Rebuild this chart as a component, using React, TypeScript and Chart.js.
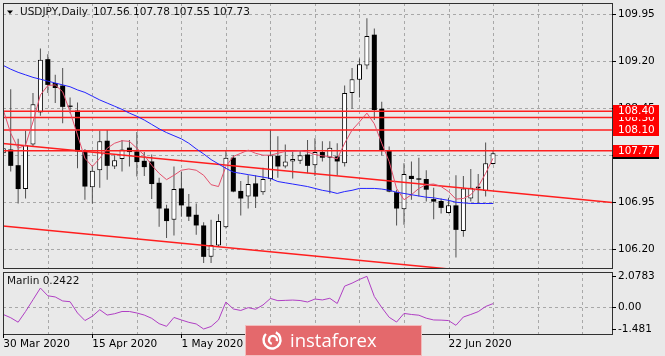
import React, { useEffect, useRef } from 'react';
import { Chart, registerables } from 'chart.js';

Chart.register(...registerables);

// ---------------- data ----------------
const openP = [
  107.73, 107.79, 107.54, 107.16, 107.87, 108.38, 109.23, 108.85, 108.81, 108.49,
  108.41, 107.78, 107.19, 107.46, 107.93, 107.52, 107.64, 107.82, 107.76, 107.61,
  107.60, 107.26, 106.85, 106.67, 107.17, 106.88, 106.75, 106.58, 106.08, 106.26,
  106.55, 107.66, 107.13, 107.04, 107.25, 107.11, 107.32, 107.69, 107.52, 107.60,
  107.61, 107.71, 107.54, 107.75, 107.66, 107.68, 107.57, 108.69, 108.90, 109.13,
  109.62, 108.44, 107.77, 107.11, 106.84, 107.37, 107.33, 107.32, 107.00, 106.97,
  106.78, 106.90, 106.49, 107.01, 107.17, 107.13, 107.56,
];
const highP = [
  108.45, 108.75, 107.96, 108.09, 108.69, 109.40, 109.31, 108.98, 109.09, 108.62,
  108.54, 107.80, 107.53, 108.09, 108.10, 107.70, 107.94, 107.94, 108.07, 107.75,
  107.71, 107.34, 106.91, 107.52, 107.43, 107.08, 106.93, 106.63, 106.67, 106.76,
  107.78, 107.70, 107.29, 107.38, 107.38, 107.50, 108.10, 108.00, 107.87, 107.76,
  107.78, 107.94, 107.97, 107.92, 107.92, 107.89, 108.81, 109.09, 109.24, 109.88,
  109.72, 108.55, 107.84, 107.15, 107.57, 107.60, 107.66, 107.46, 107.18, 107.01,
  107.02, 107.38, 107.37, 107.48, 107.40, 107.90, 107.78,
];
const lowP = [
  107.15, 107.44, 106.93, 107.01, 107.84, 108.33, 108.69, 108.53, 108.21, 108.37,
  107.49, 106.99, 106.93, 107.18, 107.31, 107.48, 107.44, 107.52, 107.36, 107.37,
  107.00, 106.56, 106.38, 106.42, 106.72, 106.65, 106.43, 105.98, 105.98, 106.24,
  106.53, 107.11, 106.74, 106.85, 106.86, 107.07, 107.28, 107.34, 107.49, 107.33,
  107.56, 107.41, 107.37, 107.60, 107.09, 107.38, 107.52, 108.44, 108.62, 109.07,
  108.26, 107.70, 107.11, 106.58, 106.59, 106.99, 107.04, 106.96, 106.68, 106.77,
  106.77, 106.07, 106.40, 106.96, 106.92, 107.04, 107.55,
];
const closeP = [
  107.81, 107.53, 107.16, 107.86, 108.51, 109.22, 108.82, 108.77, 108.47, 108.47,
  107.76, 107.20, 107.45, 107.92, 107.53, 107.62, 107.79, 107.75, 107.59, 107.51,
  107.24, 106.85, 106.65, 107.16, 106.90, 106.72, 106.58, 106.08, 106.27, 106.65,
  107.66, 107.12, 107.01, 107.24, 107.04, 107.32, 107.70, 107.52, 107.60, 107.64,
  107.70, 107.53, 107.75, 107.66, 107.82, 107.60, 108.69, 108.91, 109.15, 109.60,
  108.42, 107.77, 107.12, 106.85, 107.40, 107.32, 107.31, 107.15, 106.96, 106.86,
  106.90, 106.51, 107.17, 107.18, 107.20, 107.57, 107.73,
];
const maBlue = [
  109.13, 109.07, 109.02, 108.98, 108.94, 108.91, 108.88, 108.85, 108.82, 108.79,
  108.74, 108.70, 108.64, 108.58, 108.53, 108.48, 108.43, 108.37, 108.32, 108.26,
  108.19, 108.12, 108.06, 108.01, 107.96, 107.89, 107.80, 107.72, 107.63, 107.56,
  107.49, 107.43, 107.41, 107.39, 107.37, 107.35, 107.33, 107.28, 107.26, 107.24,
  107.22, 107.20, 107.17, 107.14, 107.12, 107.09, 107.12, 107.14, 107.17, 107.17,
  107.17, 107.16, 107.14, 107.11, 107.09, 107.07, 107.05, 107.03, 107.02, 107.00,
  106.98, 106.95, 106.94, 106.93, 106.93, 106.93, 106.93,
];
const maPink = [
  108.42, 108.05, 107.81, 107.86, 108.23, 108.66, 108.81, 108.82, 108.71, 108.39,
  108.02, 107.65, 107.52, 107.65, 107.81, 107.89, 107.93, 107.92, 107.81, 107.70,
  107.54, 107.41, 107.31, 107.38, 107.46, 107.48, 107.46, 107.38, 107.23, 107.20,
  107.52, 107.68, 107.73, 107.78, 107.73, 107.70, 107.70, 107.73, 107.76, 107.76,
  107.77, 107.75, 107.71, 107.69, 107.68, 107.64, 107.89, 108.10, 108.23, 108.37,
  108.20, 107.89, 107.60, 107.17, 106.99, 107.07, 107.17, 107.23, 107.24, 107.20,
  107.12, 107.00, 107.01, 107.07, 107.20, 107.41, 107.65,
];
const marlin = [
  -0.49, -0.71, -1.01, -0.29, 0.50, 1.29, 0.77, 0.69, 0.42, 0.37,
  -0.39, -0.90, -0.61, -0.17, -0.53, -0.44, -0.29, -0.29, -0.39, -0.53,
  -0.75, -1.11, -1.29, -0.69, -0.86, -1.02, -1.13, -1.47, -1.30, -0.86,
  0.35, -0.12, -0.22, -0.03, -0.14, 0.15, 0.59, 0.44, 0.46, 0.48,
  0.45, 0.35, 0.55, 0.49, 0.60, 0.25, 1.42, 1.62, 1.87, 2.08,
  0.72, -0.02, -0.68, -1.00, -0.42, -0.49, -0.54, -0.74, -0.86, -0.87,
  -0.90, -1.22, -0.66, -0.49, -0.30, 0.05, 0.24,
];

const priceTicks = [109.95, 109.2, 108.45, 107.7, 106.95, 106.2];
const levelPrices = [108.3, 108.4, 108.1, 107.77];
const levelTexts = ['108.30', '108.40', '108.10', '107.77'];
const bidPrice = 107.73;
const trendUpperIdx = [-0.04, 82.03];
const trendUpperPrice = [107.886, 106.946];
const trendLowerIdx = [-0.04, 82.03];
const trendLowerPrice = [106.571, 105.636];
const gridBars = [0, 6, 12, 18, 24, 30, 36, 42, 48, 54, 60, 66, 72, 78];
const dateTickIdx = [0, 12, 24, 36, 48, 60];
const dateTickText = ['30 Mar 2020', '15 Apr 2020', '1 May 2020', '19 May 2020', '4 Jun 2020', '22 Jun 2020'];
const marlinTicks = [2.0783, 0, -1.481];
const marlinTickText = ['2.0783', '0.00', '-1.481'];
const marlinName = 'Marlin 0.2422';
const symbolText = 'USDJPY,Daily';
const ohlcText = '107.56 107.78 107.55 107.73';
const logoText = 'instaforex';

// ---------------- style ----------------
const W = 665;
const MAIN_H = 270;
const SUB_TOP = 270;
const SUB_H = 86;
const X_MIN = -0.04, X_MAX = 82.03;
const P_MIN = 105.902, P_MAX = 110.125;
const M_MIN = -1.806, M_MAX = 2.372;
const BG = '#e9e9e9';
const GRID = '#a8a8a8';
const FRAME = '#303030';
const WICK = '#505050';
const RED = '#ff1e1e';
const PINK = '#e4506c';
const BLUE = '#2424ff';
const PURPLE = '#b03fc4';
const FONT = "'DejaVu Sans', sans-serif";
const FS = 10.5;

const half = (v: number) => Math.round(v) + 0.5;

function fillBg(chart: any) {
  const { ctx, width, height } = chart;
  ctx.save();
  ctx.fillStyle = BG;
  ctx.fillRect(0, 0, width, height);
  ctx.restore();
}

function drawGrid(chart: any, hVals: number[]) {
  const { ctx, chartArea: a, scales } = chart;
  ctx.save();
  ctx.strokeStyle = GRID;
  ctx.lineWidth = 1;
  ctx.setLineDash([3, 3]);
  ctx.beginPath();
  gridBars.forEach((b) => {
    const px = half(scales.x.getPixelForValue(b));
    if (px < a.left || px > a.right) return;
    ctx.moveTo(px, a.top);
    ctx.lineTo(px, a.bottom);
  });
  hVals.forEach((v) => {
    const py = half(scales.y.getPixelForValue(v));
    ctx.moveTo(a.left, py);
    ctx.lineTo(a.right, py);
  });
  ctx.stroke();
  ctx.restore();
}

function drawFrameAndTicks(chart: any, yVals: number[]) {
  const { ctx, chartArea: a, scales } = chart;
  ctx.save();
  ctx.strokeStyle = FRAME;
  ctx.lineWidth = 1;
  const l = Math.round(a.left), t = Math.round(a.top), r = Math.round(a.right), b = Math.round(a.bottom);
  ctx.strokeRect(l + 0.5, t + 0.5, r - l, b - t);
  ctx.strokeStyle = '#000';
  ctx.beginPath();
  yVals.forEach((v) => {
    const py = half(scales.y.getPixelForValue(v));
    ctx.moveTo(r, py);
    ctx.lineTo(r + 4, py);
  });
  ctx.stroke();
  ctx.restore();
}

const mainPlugin = {
  id: 'mainDecor',
  beforeDraw: (chart: any) => fillBg(chart),
  beforeDatasetsDraw: (chart: any) => drawGrid(chart, priceTicks),
  afterDraw: (chart: any) => {
    const { ctx, chartArea: a, scales } = chart;
    drawFrameAndTicks(chart, priceTicks);
    ctx.save();
    const r = Math.round(a.right) + 1;
    // bid marker (black) under level boxes
    const by = scales.y.getPixelForValue(bidPrice);
    ctx.fillStyle = '#000';
    ctx.fillRect(r, Math.round(by - 6), 46, 12);
    levelPrices.forEach((p, k) => {
      const py = scales.y.getPixelForValue(p);
      ctx.fillStyle = '#ff0000';
      ctx.fillRect(r, Math.round(py - 6), 46, 12);
      ctx.fillStyle = '#ffffff';
      ctx.font = `${FS}px ${FONT}`;
      ctx.textBaseline = 'middle';
      ctx.textAlign = 'left';
      ctx.fillText(levelTexts[k], r + 5, py + 0.5);
    });
    // header
    ctx.fillStyle = '#000';
    ctx.beginPath();
    ctx.moveTo(7, 10.5);
    ctx.lineTo(13, 10.5);
    ctx.lineTo(10, 14);
    ctx.closePath();
    ctx.fill();
    ctx.fillStyle = '#111';
    ctx.font = `${FS}px ${FONT}`;
    ctx.textBaseline = 'middle';
    ctx.textAlign = 'left';
    ctx.fillText(symbolText, 20, 12.5);
    ctx.fillText(ohlcText, 93, 12.5);
    ctx.restore();
  },
};

const subPlugin = {
  id: 'subDecor',
  beforeDraw: (chart: any) => fillBg(chart),
  beforeDatasetsDraw: (chart: any) => drawGrid(chart, [0]),
  afterDraw: (chart: any) => {
    const { ctx, chartArea: a, scales } = chart;
    drawFrameAndTicks(chart, marlinTicks);
    ctx.save();
    // date tick marks
    ctx.strokeStyle = '#000';
    ctx.beginPath();
    const b = Math.round(a.bottom);
    dateTickIdx.forEach((i) => {
      const px = half(scales.x.getPixelForValue(i));
      ctx.moveTo(px, b);
      ctx.lineTo(px, b + 4);
    });
    ctx.stroke();
    // indicator name
    ctx.fillStyle = '#111';
    ctx.font = `${FS}px ${FONT}`;
    ctx.textBaseline = 'middle';
    ctx.textAlign = 'left';
    ctx.fillText(marlinName, 7, 11);
    // logo
    ctx.fillStyle = '#e4696c';
    ctx.fillRect(245, 55, 177, 31);
    ctx.strokeStyle = 'rgba(255,255,255,0.55)';
    ctx.lineWidth = 1;
    ctx.strokeRect(245.5, 55.5, 176, 30);
    ctx.strokeStyle = '#ffffff';
    ctx.lineWidth = 2.4;
    ctx.beginPath();
    ctx.arc(272, 70, 8.5, -0.35 * Math.PI, 1.25 * Math.PI);
    ctx.stroke();
    ctx.beginPath();
    ctx.arc(273, 70, 4, 0.6 * Math.PI, 2.1 * Math.PI);
    ctx.stroke();
    ctx.fillStyle = '#ffffff';
    ctx.font = "18.5px 'Open Sans', sans-serif";
    ctx.textBaseline = 'alphabetic';
    ctx.fillText(logoText, 290, 76.5);
    ctx.restore();
  },
};

function PriceChart() {
  const ref = useRef<HTMLCanvasElement>(null);
  useEffect(() => {
    const idx = openP.map((_, i) => i);
    const wicks = idx.map((i) => ({ x: i, y: [lowP[i], highP[i]] }));
    const upBodies = idx.filter((i) => closeP[i] >= openP[i]).map((i) => ({ x: i, y: [openP[i], closeP[i]] }));
    const downBodies = idx.filter((i) => closeP[i] < openP[i]).map((i) => ({ x: i, y: [closeP[i], openP[i]] }));
    const lineDs = (data: any[], color: string, width: number, order: number) => ({
      type: 'line', data, borderColor: color, borderWidth: width, pointRadius: 0, tension: 0, fill: false, order,
    });
    const datasets: any[] = [
      { type: 'bar', data: wicks, backgroundColor: WICK, borderWidth: 0, barThickness: 1, grouped: false, inflateAmount: 0, order: 6 },
      { type: 'bar', data: downBodies, backgroundColor: '#000', borderWidth: 0, barThickness: 5, grouped: false, inflateAmount: 0, order: 5 },
      { type: 'bar', data: upBodies, backgroundColor: '#fff', borderColor: '#000', borderWidth: 1, borderSkipped: false, barThickness: 5, grouped: false, inflateAmount: 0, order: 5 },
      ...levelPrices.map((p) => lineDs([{ x: X_MIN, y: p }, { x: X_MAX, y: p }], RED, 1.5, 3)),
      lineDs(trendUpperIdx.map((x, k) => ({ x, y: trendUpperPrice[k] })), RED, 1.5, 3),
      lineDs(trendLowerIdx.map((x, k) => ({ x, y: trendLowerPrice[k] })), RED, 1.5, 3),
      lineDs(idx.map((i) => ({ x: i, y: maPink[i] })), PINK, 1, 2),
      lineDs(idx.map((i) => ({ x: i, y: maBlue[i] })), BLUE, 1, 1),
    ];
    const chart = new Chart(ref.current as HTMLCanvasElement, {
      type: 'bar',
      data: { datasets },
      options: {
        responsive: false,
        animation: false,
        devicePixelRatio: 1,
        events: [],
        layout: { padding: { left: 3, top: 3, right: 0, bottom: 2 } },
        plugins: { legend: { display: false }, tooltip: { enabled: false } },
        scales: {
          x: { type: 'linear', min: X_MIN, max: X_MAX, offset: false, display: false },
          y: {
            type: 'linear', position: 'right', min: P_MIN, max: P_MAX,
            afterBuildTicks: (s: any) => { s.ticks = priceTicks.map((v) => ({ value: v })); },
            afterFit: (s: any) => { s.width = 53; s.paddingTop = 0; s.paddingBottom = 0; },
            grid: { display: false, drawTicks: false },
            border: { display: false },
            ticks: { padding: 6, color: '#000', font: { family: FONT, size: FS }, callback: (v: any) => Number(v).toFixed(2) },
          },
        },
      } as any,
      plugins: [mainPlugin],
    } as any);
    return () => chart.destroy();
  }, []);
  return <canvas ref={ref} width={W} height={MAIN_H} style={{ position: 'absolute', left: 0, top: 0, width: W, height: MAIN_H }} />;
}

function MarlinChart() {
  const ref = useRef<HTMLCanvasElement>(null);
  useEffect(() => {
    const idx = marlin.map((_, i) => i);
    const chart = new Chart(ref.current as HTMLCanvasElement, {
      type: 'line',
      data: {
        datasets: [{ data: idx.map((i) => ({ x: i, y: marlin[i] })), borderColor: PURPLE, borderWidth: 1, pointRadius: 0, tension: 0, fill: false }],
      },
      options: {
        responsive: false,
        animation: false,
        devicePixelRatio: 1,
        events: [],
        layout: { padding: { left: 3, top: 2, right: 0, bottom: 0 } },
        plugins: { legend: { display: false }, tooltip: { enabled: false } },
        scales: {
          x: {
            type: 'linear', min: X_MIN, max: X_MAX, offset: false, position: 'bottom',
            afterBuildTicks: (s: any) => { s.ticks = gridBars.map((v) => ({ value: v })); },
            afterFit: (s: any) => { s.height = 22; s.paddingLeft = 0; s.paddingRight = 0; },
            grid: { display: false, drawTicks: false },
            border: { display: false },
            ticks: {
              autoSkip: false, maxRotation: 0, minRotation: 0, align: 'start', padding: 4, color: '#000',
              font: { family: FONT, size: FS },
              callback: (v: any) => { const k = dateTickIdx.indexOf(Number(v)); return k >= 0 ? dateTickText[k] : ''; },
            },
          },
          y: {
            type: 'linear', position: 'right', min: M_MIN, max: M_MAX,
            afterBuildTicks: (s: any) => { s.ticks = marlinTicks.map((v) => ({ value: v })); },
            afterFit: (s: any) => { s.width = 53; s.paddingTop = 0; s.paddingBottom = 0; },
            grid: { display: false, drawTicks: false },
            border: { display: false },
            ticks: {
              padding: 6, color: '#000', font: { family: FONT, size: FS },
              callback: (v: any) => { const k = marlinTicks.indexOf(Number(v)); return k >= 0 ? marlinTickText[k] : ''; },
            },
          },
        },
      } as any,
      plugins: [subPlugin],
    } as any);
    return () => chart.destroy();
  }, []);
  return <canvas ref={ref} width={W} height={SUB_H} style={{ position: 'absolute', left: 0, top: SUB_TOP, width: W, height: SUB_H }} />;
}

export default function App() {
  useEffect(() => {
    document.body.style.margin = '0';
    document.body.style.background = BG;
  }, []);
  return (
    <div style={{ position: 'fixed', left: 0, top: 0, width: W, height: 356, background: BG, overflow: 'hidden' }}>
      <PriceChart />
      <MarlinChart />
    </div>
  );
}
